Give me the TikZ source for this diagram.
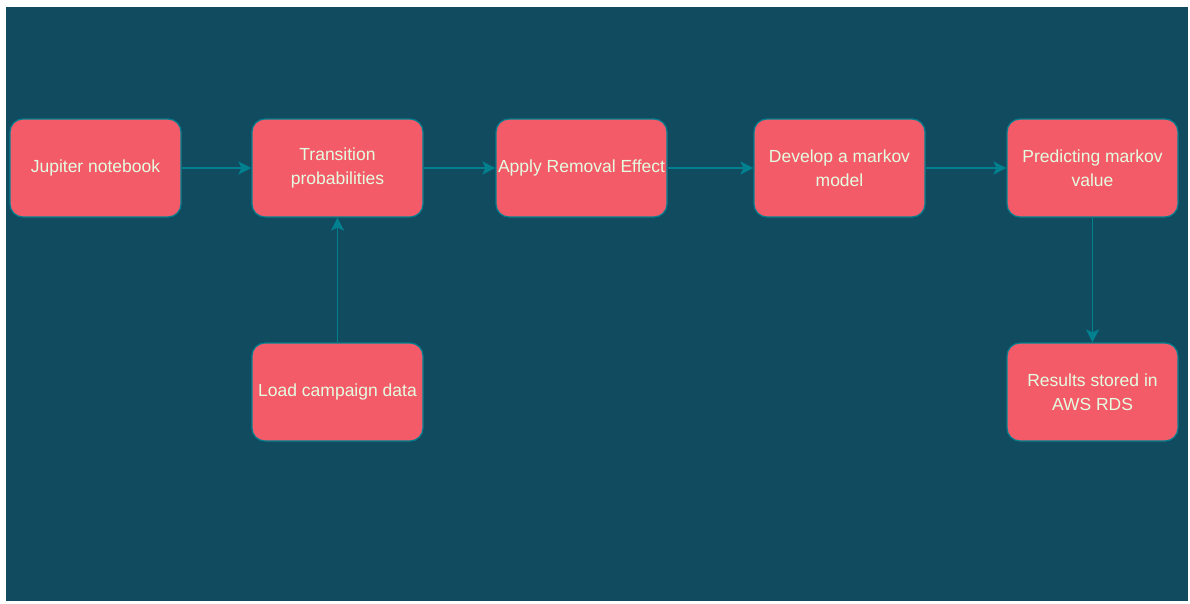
\documentclass[tikz,border=0pt]{standalone}
\usepackage{fontspec}
\setmainfont{Liberation Sans}
\usetikzlibrary{arrows.meta}
\definecolor{bgteal}{HTML}{114B5F}
\definecolor{boxfill}{HTML}{F45B69}
\definecolor{linecol}{HTML}{028090}
\definecolor{txtcol}{HTML}{E4FDE1}
\tikzset{
  stepbox/.style={draw=linecol, line width=1.2pt, fill=boxfill, rounded corners=13pt,
    minimum width=171pt, minimum height=98pt, inner sep=0pt,
    text=txtcol, align=center, font=\fontsize{17.5}{24}\selectfont},
  conn/.style={draw=linecol, line width=1.6pt, -{Stealth[length=13pt,width=13pt,inset=3pt]}}
}
\begin{document}
\begin{tikzpicture}[x=1pt,y=-1pt]
\useasboundingbox (0,0) rectangle (1190,603);
\fill[white] (0,0) rectangle (1190,603);
\fill[bgteal] (6,7) rectangle (1188,601);
\node[stepbox] (jup) at (95.5,168) {Jupiter notebook};
\node[stepbox] (trans) at (337.5,168) {Transition\\probabilities};
\node[stepbox] (apply) at (581.5,168) {Apply Removal Effect};
\node[stepbox] (dev) at (839.5,168) {Develop a markov\\model};
\node[stepbox] (pred) at (1092.5,168) {Predicting markov\\value};
\node[stepbox] (load) at (337.5,392) {Load campaign data};
\node[stepbox] (res) at (1092.5,392) {Results stored in\\AWS RDS};
\draw[conn] (jup) -- (trans);
\draw[conn] (trans) -- (apply);
\draw[conn] (apply) -- (dev);
\draw[conn] (dev) -- (pred);
\draw[conn] (pred) -- (res);
\draw[conn] (load) -- (trans);
\end{tikzpicture}
\end{document}
